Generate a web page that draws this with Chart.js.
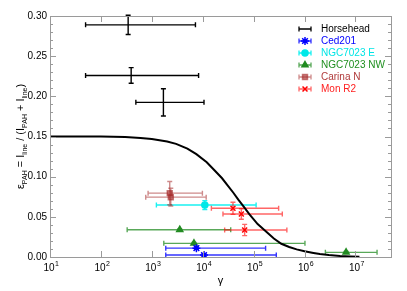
<!DOCTYPE html>
<html>
<head>
<meta charset="utf-8">
<script src="https://cdn.jsdelivr.net/npm/chart.js@4.4.1/dist/chart.umd.min.js"></script>
<style>
  html, body { margin: 0; padding: 0; background: #fff; }
</style>
</head>
<body>
<canvas id="chart" width="407" height="291"></canvas>
<script>
// Model curve
const curveGamma = [10, 100, 300, 600, 1000, 2000, 3000, 5000, 7500, 12000, 17000, 24000, 30000, 40000, 50000, 65000, 83000,
                    120000, 180000, 250000, 350000, 500000, 700000, 1000000, 1500000, 2000000, 3000000, 5000000, 8000000, 12000000];
const curveEps   = [0.150, 0.150, 0.1495, 0.148, 0.147, 0.1437, 0.1408, 0.135, 0.128, 0.118, 0.108, 0.098, 0.090, 0.080, 0.0715, 0.062, 0.053,
                    0.041, 0.031, 0.023, 0.0165, 0.0125, 0.0095, 0.0072, 0.0050, 0.0036, 0.0024, 0.0013, 0.0007, 0.0004];

// Horsehead
const hhGamma = [343, 393, 1690];
const hhEps   = [0.289, 0.226, 0.1925];
const hhLo    = [50, 50, 486];
const hhHi    = [7200, 8300, 10600];
const hhErr   = [0.012, 0.0097, 0.017];

// Ced201
const cedGamma = [7520, 10600];
const cedEps   = [0.011, 0.0025];
const cedLo    = [1880, 1880];
const cedHi    = [172000, 279000];
const cedErr   = [0.0015, 0.0015];

// NGC7023 E
const eGamma = [11000];
const eEps   = [0.0647];
const eLo    = [1230];
const eHi    = [112000];
const eErr   = [0.0055];

// NGC7023 NW
const nwGamma = [3540, 6740, 6560000];
const nwEps   = [0.034, 0.017, 0.0058];
const nwLo    = [328, 1720, 2570000];
const nwHi    = [35500, 1020000, 26600000];
const nwErr   = [0.001, 0.001, 0.001];

// Carina N
const carGamma = [2250, 2360];
const carEps   = [0.0795, 0.0745];
const carLo    = [845, 760];
const carHi    = [9860, 11700];
const carErr   = [0.0145, 0.011];

// Mon R2
const monGamma = [39300, 57400, 66700];
const monEps   = [0.0606, 0.0535, 0.0336];
const monLo    = [14800, 25000, 27000];
const monHi    = [310000, 366000, 450000];
const monErr   = [0.0075, 0.0065, 0.007];

const xDecades = [1, 2, 3, 4, 5, 6, 7];
const yTicks = ['0.00', '0.05', '0.10', '0.15', '0.20', '0.25', '0.30'];

const FONT = '"Liberation Sans", Arial, sans-serif';

const sources = [
    { name: 'Horsehead', gamma: hhGamma, eps: hhEps, lo: hhLo, hi: hhHi, err: hhErr,
      text: '#000', bar: '#000', fill: '#000', style: false, radius: 0 },
    { name: 'Ced201', gamma: cedGamma, eps: cedEps, lo: cedLo, hi: cedHi, err: cedErr,
      text: '#0000ff', bar: 'rgba(0,0,255,0.8)', fill: '#0000ff', style: 'star', radius: 4 },
    { name: 'NGC7023 E', gamma: eGamma, eps: eEps, lo: eLo, hi: eHi, err: eErr,
      text: '#00e5e5', bar: 'rgba(0,240,240,0.9)', fill: '#00e8e8', style: 'circle', radius: 3 },
    { name: 'NGC7023 NW', gamma: nwGamma, eps: nwEps, lo: nwLo, hi: nwHi, err: nwErr,
      text: '#1f8f1f', bar: 'rgba(34,139,34,0.75)', fill: '#228b22', style: 'triangle', radius: 3.5 },
    { name: 'Carina N', gamma: carGamma, eps: carEps, lo: carLo, hi: carHi, err: carErr,
      text: '#b03a3a', bar: 'rgba(165,42,42,0.55)', fill: 'rgba(165,42,42,0.6)', style: 'rect', radius: 3.5 },
    { name: 'Mon R2', gamma: monGamma, eps: monEps, lo: monLo, hi: monHi, err: monErr,
      text: '#ff2020', bar: 'rgba(255,0,0,0.6)', fill: '#ff0000', style: 'crossRot', radius: 3.5 }
];

const errorBars = {
    id: 'errorBars',
    beforeDatasetsDraw(chart) {
        const ctx = chart.ctx, xs = chart.scales.x, ys = chart.scales.y;
        const cap = 2.5;
        ctx.save();
        ctx.lineWidth = 1.4;
        sources.forEach(src => {
            ctx.strokeStyle = src.bar;
            src.gamma.forEach((g, i) => {
                const px = xs.getPixelForValue(g);
                const py = ys.getPixelForValue(src.eps[i]);
                const x0 = xs.getPixelForValue(src.lo[i]);
                const x1 = xs.getPixelForValue(src.hi[i]);
                const y0 = ys.getPixelForValue(src.eps[i] - src.err[i]);
                const y1 = ys.getPixelForValue(src.eps[i] + src.err[i]);
                ctx.beginPath();
                ctx.moveTo(x0, py); ctx.lineTo(x1, py);
                ctx.moveTo(x0, py - cap); ctx.lineTo(x0, py + cap);
                ctx.moveTo(x1, py - cap); ctx.lineTo(x1, py + cap);
                ctx.moveTo(px, y0); ctx.lineTo(px, y1);
                ctx.moveTo(px - cap, y0); ctx.lineTo(px + cap, y0);
                ctx.moveTo(px - cap, y1); ctx.lineTo(px + cap, y1);
                ctx.stroke();
            });
        });
        ctx.restore();
    }
};

// frame, ticks, tick labels, axis titles and legend
const decorations = {
    id: 'decorations',
    afterDraw(chart) {
        const ctx = chart.ctx, xs = chart.scales.x, ys = chart.scales.y;
        const a = chart.chartArea;
        ctx.save();
        ctx.strokeStyle = '#9a9a9a';
        ctx.lineWidth = 1;
        ctx.strokeRect(a.left + 0.5, a.top + 0.5, a.right - a.left, a.bottom - a.top);

        ctx.beginPath();
        for (let k = 0; k <= 30; k++) {
            const py = Math.round(ys.getPixelForValue(k / 100)) + 0.5;
            const len = k % 5 === 0 ? 6 : 3;
            ctx.moveTo(a.left, py); ctx.lineTo(a.left + len, py);
            ctx.moveTo(a.right, py); ctx.lineTo(a.right - len, py);
        }
        xDecades.forEach(d => {
            const px = Math.round(xs.getPixelForValue(Math.pow(10, d))) + 0.5;
            ctx.moveTo(px, a.bottom); ctx.lineTo(px, a.bottom - 6);
            ctx.moveTo(px, a.top); ctx.lineTo(px, a.top + 6);
        });
        ctx.stroke();

        ctx.fillStyle = '#000';
        ctx.font = '10px ' + FONT;
        ctx.textAlign = 'right';
        ctx.textBaseline = 'middle';
        yTicks.forEach(t => {
            ctx.fillText(t, a.left - 3, ys.getPixelForValue(parseFloat(t)));
        });

        xDecades.forEach(d => {
            const px = xs.getPixelForValue(Math.pow(10, d));
            ctx.font = '10px ' + FONT;
            const wb = ctx.measureText('10').width;
            ctx.font = '7px ' + FONT;
            const ws = ctx.measureText(String(d)).width;
            const x0 = px - (wb + ws) / 2 + 1;
            ctx.textAlign = 'left';
            ctx.textBaseline = 'alphabetic';
            ctx.font = '10px ' + FONT;
            ctx.fillText('10', x0, 271);
            ctx.font = '7px ' + FONT;
            ctx.fillText(String(d), x0 + wb + 0.5, 266);
        });

        // x title
        ctx.font = '11px ' + FONT;
        ctx.textAlign = 'center';
        ctx.fillText('\u03b3', (a.left + a.right) / 2, 284);

        // y title with subscripts
        const parts = [
            ['\u03b5', 11, 0], ['PAH', 7, 3], [' = I', 11, 0], ['line', 7, 3],
            [' / (I', 11, 0], ['PAH', 7, 3], [' + I', 11, 0], ['line', 7, 3], [')', 11, 0]
        ];
        let total = 0;
        parts.forEach(p => { ctx.font = p[1] + 'px ' + FONT; total += ctx.measureText(p[0]).width; });
        ctx.translate(24, (a.top + a.bottom) / 2);
        ctx.rotate(-Math.PI / 2);
        ctx.textAlign = 'left';
        let cx = -total / 2;
        parts.forEach(p => {
            ctx.font = p[1] + 'px ' + FONT;
            ctx.fillText(p[0], cx, p[2]);
            cx += ctx.measureText(p[0]).width;
        });
        ctx.setTransform(1, 0, 0, 1, 0, 0);

        // legend
        sources.forEach((src, i) => {
            const ly = 29 + i * 12;
            ctx.strokeStyle = src.bar;
            ctx.lineWidth = 1.3;
            ctx.beginPath();
            ctx.moveTo(299, ly); ctx.lineTo(311, ly);
            ctx.moveTo(299, ly - 2.5); ctx.lineTo(299, ly + 2.5);
            ctx.moveTo(311, ly - 2.5); ctx.lineTo(311, ly + 2.5);
            ctx.stroke();
            if (src.style) {
                ctx.fillStyle = src.fill;
                ctx.strokeStyle = src.fill;
                ctx.lineWidth = 1.5;
                Chart.helpers.drawPoint(ctx, { pointStyle: src.style, radius: src.radius, rotation: 0, borderWidth: 1.5 }, 305, ly);
            }
            ctx.fillStyle = src.text;
            ctx.font = '10px ' + FONT;
            ctx.textAlign = 'left';
            ctx.textBaseline = 'middle';
            ctx.fillText(src.name, 321, ly);
        });
        ctx.restore();
    }
};

const datasets = [{
    data: curveGamma.map((g, i) => ({ x: g, y: curveEps[i] })),
    showLine: true,
    borderColor: '#000',
    borderWidth: 2,
    pointRadius: 0,
    tension: 0,
    order: 0
}];
sources.forEach(src => {
    datasets.push({
        label: src.name,
        data: src.gamma.map((g, i) => ({ x: g, y: src.eps[i] })),
        showLine: false,
        pointStyle: src.style || 'circle',
        pointRadius: src.radius,
        pointBackgroundColor: src.fill,
        pointBorderColor: src.fill,
        pointBorderWidth: 1.5,
        order: 1
    });
});

new Chart(document.getElementById('chart'), {
    type: 'scatter',
    data: { datasets: datasets },
    options: {
        responsive: false,
        devicePixelRatio: 1,
        animation: false,
        layout: { padding: { left: 50, top: 16, right: 16, bottom: 34 } },
        plugins: { legend: { display: false }, tooltip: { enabled: false } },
        scales: {
            x: { type: 'logarithmic', min: 10, max: 50000000, display: false },
            y: { type: 'linear', min: 0, max: 0.30, display: false }
        }
    },
    plugins: [errorBars, decorations]
});
</script>
</body>
</html>
